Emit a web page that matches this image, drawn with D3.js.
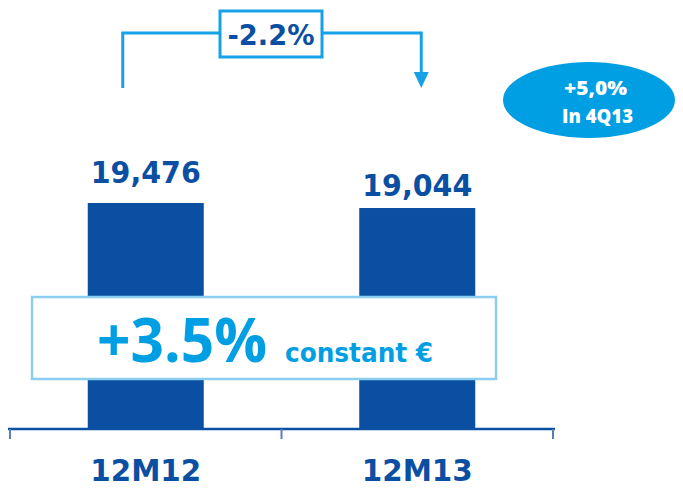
<!DOCTYPE html>
<html><head><meta charset="utf-8">
<script src="https://cdn.jsdelivr.net/npm/d3@7"></script>
<style>html,body{margin:0;padding:0;background:#fff;}svg{display:block;}</style>
</head><body>
<svg id="c" width="683" height="488"></svg>
<script>
const categories = ["12M12", "12M13"];
const values = [19476, 19044];
const valueLabels = ["19,476", "19,044"];
const changeLabel = "-2.2%";
const constantLabel = "+3.5%";
const constantSub = "constant €";
const bubbleLines = ["+5,0%", "In 4Q13"];

const dark = "#0b4fa2", light = "#009fe3";
const labelGap = [20, 12];
const svg = d3.select("#c");
const x = d3.scaleBand().domain(categories).range([10, 553]).padding(0);
const y = d3.scaleLinear().domain([0, 19476]).range([429, 203]);
const bw = 116;
const cx = d => x(d) + x.bandwidth() / 2;

// bars
svg.selectAll("rect.bar").data(categories).enter().append("rect")
  .attr("x", d => cx(d) - bw / 2).attr("width", bw)
  .attr("y", (d, i) => y(values[i])).attr("height", (d, i) => y(0) - y(values[i]))
  .attr("fill", dark);

// value labels
svg.selectAll("text.val").data(categories).enter().append("text")
  .attr("x", d => cx(d)).attr("y", (d, i) => y(values[i]) - labelGap[i])
  .attr("text-anchor", "middle").attr("font-family", "DejaVu Sans").attr("font-weight", "bold")
  .attr("font-size", 30).attr("fill", dark)
  .attr("textLength", 110).attr("lengthAdjust", "spacingAndGlyphs")
  .text((d, i) => valueLabels[i]);

// axis
svg.append("line").attr("x1", 8).attr("x2", 555).attr("y1", 429).attr("y2", 429)
  .attr("stroke", dark).attr("stroke-width", 2.5);
[x.range()[0], x(categories[1]), x.range()[1]].forEach(t => {
  svg.append("line").attr("x1", t).attr("x2", t).attr("y1", 429).attr("y2", 439)
    .attr("stroke", "#5a7fb8").attr("stroke-width", 2);
});
svg.selectAll("text.cat").data(categories).enter().append("text")
  .attr("x", d => cx(d)).attr("y", 481)
  .attr("text-anchor", "middle").attr("font-family", "DejaVu Sans").attr("font-weight", "bold")
  .attr("font-size", 30).attr("fill", dark)
  .attr("textLength", 111).attr("lengthAdjust", "spacingAndGlyphs")
  .text(d => d);

// constant box
svg.append("rect").attr("x", 32).attr("y", 297).attr("width", 464).attr("height", 82)
  .attr("fill", "#fff").attr("stroke", "#8ccdf0").attr("stroke-width", 2.5);
svg.append("text").attr("x", 97).attr("y", 362)
  .attr("font-family", "Open Sans").attr("font-weight", "bold").attr("font-size", 60)
  .attr("fill", light).attr("textLength", 170).attr("lengthAdjust", "spacingAndGlyphs")
  .text(constantLabel);
svg.append("text").attr("x", 285).attr("y", 362)
  .attr("font-family", "DejaVu Sans").attr("font-weight", "bold").attr("font-size", 26)
  .attr("fill", light).attr("textLength", 148).attr("lengthAdjust", "spacingAndGlyphs")
  .text(constantSub);

// bracket
const bx1 = cx(categories[0]) - 23, bx2 = cx(categories[1]) + 4;
const bc = "#17a1e6";
svg.append("path").attr("d", `M${bx1},88 V33 H220 M322,33 H${bx2} V74`)
  .attr("fill", "none").attr("stroke", bc).attr("stroke-width", 3);
svg.append("path").attr("d", `M${bx2 - 7.5},72 L${bx2 + 7.5},72 L${bx2},88 Z`).attr("fill", bc);
svg.append("rect").attr("x", 220).attr("y", 11).attr("width", 102).attr("height", 46)
  .attr("fill", "#fff").attr("stroke", bc).attr("stroke-width", 3);
svg.append("text").attr("x", 271).attr("y", 45).attr("text-anchor", "middle")
  .attr("font-family", "DejaVu Sans").attr("font-weight", "bold").attr("font-size", 29)
  .attr("fill", dark).attr("textLength", 87).attr("lengthAdjust", "spacingAndGlyphs")
  .text(changeLabel);

// bubble
svg.append("ellipse").attr("cx", 589).attr("cy", 100).attr("rx", 86).attr("ry", 38).attr("fill", light);
svg.selectAll("text.bub").data(bubbleLines).enter().append("text")
  .attr("x", (d, i) => i === 0 ? 595.5 : 597.5).attr("y", (d, i) => i === 0 ? 95 : 123)
  .attr("text-anchor", "middle").attr("font-family", "Open Sans").attr("font-weight", 800)
  .attr("font-size", 19).attr("fill", "#fff")
  .attr("textLength", (d, i) => i === 0 ? 63 : 71).attr("lengthAdjust", "spacingAndGlyphs")
  .text(d => d);
</script>
</body></html>
